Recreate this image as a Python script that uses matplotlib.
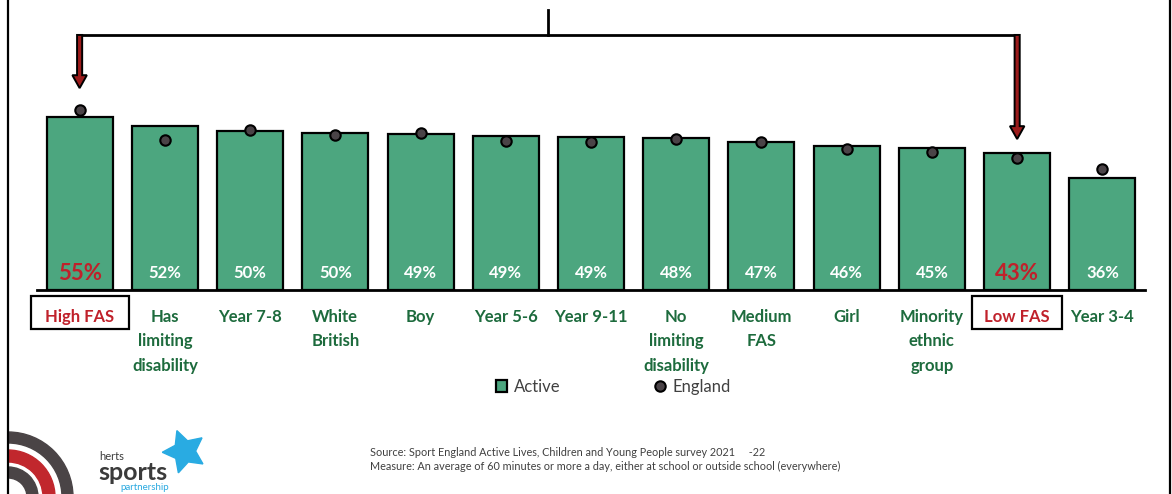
import matplotlib

matplotlib.use("Agg")
import matplotlib.pyplot as plt
from matplotlib.lines import Line2D
from matplotlib.patches import FancyArrow, Rectangle, Wedge

categories = [
    "High FAS", "Has\nlimiting\ndisability", "Year 7-8", "White\nBritish", "Boy",
    "Year 5-6", "Year 9-11", "No\nlimiting\ndisability", "Medium\nFAS", "Girl",
    "Minority\nethnic\ngroup", "Low FAS", "Year 3-4",
]
active = [55.0, 52.1, 50.6, 49.9, 49.6, 49.0, 48.6, 48.4, 47.2, 45.9, 45.2, 43.5, 35.6]
active_labels = ["55%", "52%", "50%", "50%", "49%", "49%", "49%", "48%", "47%", "46%", "45%", "43%", "36%"]
england = [57.2, 47.7, 50.9, 49.4, 49.9, 47.5, 47.0, 48.0, 47.1, 44.8, 43.8, 42.0, 38.5]
highlight = {"High FAS": 1.15, "Low FAS": 1.06}  # label -> box width

source_lines = [
    "Source: Sport England Active Lives, Children and Young People survey 2021     -22",
    "Measure: An average of 60 minutes or more a day, either at school or outside school (everywhere)",
]

GREEN = "#4ca67f"
TEXT_GREEN = "#1d6b3d"
RED = "#c0212b"
DARK_RED = "#9b1b1b"
DOT = "#4a4347"
GREY = "#404040"

W, H = 1172, 494
plt.rcParams["font.family"] = ["Lato", "DejaVu Sans"]

fig = plt.figure(figsize=(W / 100, H / 100), dpi=100)
fig.patch.set_facecolor("white")

# decoration layer in pixel coordinates
deco = fig.add_axes([0, 0, 1, 1])
deco.set_xlim(0, W)
deco.set_ylim(H, 0)
deco.axis("off")
deco.plot([8, 8], [0, H], color="black", lw=1.6)
deco.plot([1170, 1170], [0, H], color="black", lw=1.6)
for r, w, c in [(65, 11, "#4a4446"), (47, 12, "#c1272d"), (30, 11, "#4a4446")]:
    deco.add_patch(Wedge((8, 497), r, 270, 360, width=w, color=c))
deco.text(99, 456, "herts", fontsize=8, color="#3b3b3b", va="center")
deco.text(98, 472, "sports", fontsize=18, fontweight="bold", color="#3b3b3b", va="center")
deco.text(120, 487, "partnership", fontsize=7, color="#29a9e0", va="center")
deco.plot(184, 451, marker=(5, 1, 20), markersize=32, color="#29abe2")
for k, line in enumerate(source_lines):
    deco.text(370, 452 + k * 14, line, fontsize=7.8, color=GREY, va="center")

# chart axes: baseline at y=290 px, 3.145 px per percentage point
ax = fig.add_axes([37 / W, (H - 290) / H, 1108 / W, 188.7 / H])
ax.set_facecolor("none")
x = list(range(len(categories)))
ax.bar(x, active, width=0.775, color=GREEN, edgecolor="black", linewidth=1.6, zorder=2)
ax.plot(x, england, "o", color=DOT, markeredgecolor="black", markeredgewidth=1.5,
        markersize=7.5, zorder=3, clip_on=False)
ax.set_xlim(-0.5, len(categories) - 0.5)
ax.set_ylim(0, 60)
for side in ["top", "left", "right"]:
    ax.spines[side].set_visible(False)
ax.spines["bottom"].set_linewidth(2)
ax.set_yticks([])
ax.set_xticks(x, categories, fontsize=12, fontweight="bold", color=TEXT_GREEN, linespacing=1.65)
ax.tick_params(axis="x", length=0, pad=13.5)
for tick, name in zip(ax.get_xticklabels(), categories):
    if name in highlight:
        tick.set_color(RED)

for i, (name, lab) in enumerate(zip(categories, active_labels)):
    if name in highlight:
        ax.text(i, 5.4, lab, ha="center", va="center", fontsize=16, fontweight="bold", color=RED, zorder=4)
        w = highlight[name]
        ax.add_patch(Rectangle((i - w / 2, -12.4), w, 10.5, fill=False, edgecolor="black",
                               linewidth=1.6, clip_on=False))
    else:
        ax.text(i, 5.4, lab, ha="center", va="center", fontsize=12, fontweight="bold", color="white", zorder=4)

# bracket with arrows pointing at the highest and lowest FAS groups
i_hi, i_lo = categories.index("High FAS"), categories.index("Low FAS")
ax.plot([i_hi, i_lo], [81.1, 81.1], color="black", lw=2, clip_on=False, solid_capstyle="projecting")
ax.plot([(i_hi + i_lo) / 2] * 2, [81.1, 89.0], color="black", lw=2, clip_on=False)
for i, tip in [(i_hi, 64.2), (i_lo, 48.0)]:
    ax.add_patch(FancyArrow(i, 81.1, 0, tip - 81.1, width=0.06, head_width=0.17, head_length=4.1,
                            length_includes_head=True, facecolor=DARK_RED, edgecolor="black",
                            linewidth=1.4, clip_on=False, zorder=5))

handles = [
    Rectangle((0, 0), 1, 1, facecolor=GREEN, edgecolor="black", linewidth=1.6),
    Line2D([], [], marker="o", linestyle="none", color=DOT, markeredgecolor="black",
           markeredgewidth=1.5, markersize=7.5),
]
fig.legend(handles, ["Active", "England"], loc="center", bbox_to_anchor=(0.523, 1 - 387 / H),
           ncol=2, frameon=False, fontsize=12, labelcolor=GREY, columnspacing=5.6,
           handlelength=0.7, handleheight=0.7, handletextpad=0.4)

fig.savefig("out.png", dpi=100, facecolor="white")
plt.close(fig)
